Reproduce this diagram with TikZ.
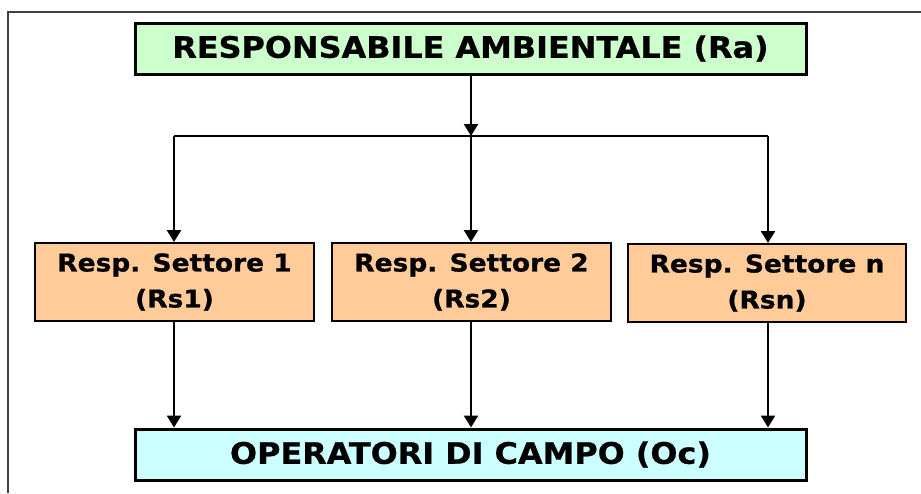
\documentclass[tikz,border=0pt]{standalone}
\usepackage{fontspec}
\setmainfont{DejaVu Sans}
\newfontfamily\wideface{DejaVu Sans Bold}[FakeStretch=1.08, FakeBold=0.8]
\usetikzlibrary{arrows.meta}
\definecolor{topfill}{HTML}{CCFFCC}
\definecolor{secfill}{HTML}{FFCC99}
\definecolor{botfill}{HTML}{CCFFFF}
\definecolor{framecol}{HTML}{404040}
\tikzset{
  bigbox/.style={draw=black, line width=3pt, inner sep=0pt, minimum width=671pt, minimum height=51pt, font=\wideface\fontsize{29.5}{32}\selectfont},
  secbox/.style={draw=black, line width=2pt, fill=secfill, inner sep=0pt, minimum width=279pt, minimum height=78pt, align=center, font=\wideface\fontsize{24.5}{36}\selectfont},
  conn/.style={line width=2.4pt, black},
  arr/.style={conn, -{Triangle[width=14pt,length=12pt]}}
}
\begin{document}
\begin{tikzpicture}[x=1pt,y=-1pt]
\useasboundingbox (0,0) rectangle (921,493);
\draw[framecol, line width=1.2pt] (8,493) -- (8,12) -- (921,12);
\node[bigbox, fill=topfill] (ra) at (470.5,48.5) {RESPONSABILE AMBIENTALE (Ra)};
\node[secbox] (rs1) at (174.5,282) {Resp. Settore 1\\(Rs1)};
\node[secbox] (rs2) at (471.5,282) {Resp. Settore 2\\(Rs2)};
\node[secbox, minimum width=278pt] (rsn) at (767,283) {Resp. Settore n\\(Rsn)};
\node[bigbox, fill=botfill] (oc) at (470.5,454.5) {OPERATORI DI CAMPO (Oc)};
\coordinate (j1) at (174,136);
\coordinate (j2) at (471,136);
\coordinate (j3) at (768,136);
\draw[arr] (ra.south -| j2) -- (j2);
\draw[conn] (j1) -- (j3);
\draw[arr] (j1) -- (j1 |- rs1.north);
\draw[arr] (j2) -- (j2 |- rs2.north);
\draw[arr] (j3) -- (j3 |- rsn.north);
\draw[arr] (rs1.south -| j1) -- (j1 |- oc.north);
\draw[arr] (rs2.south -| j2) -- (j2 |- oc.north);
\draw[arr] (rsn.south -| j3) -- (j3 |- oc.north);
\end{tikzpicture}
\end{document}
